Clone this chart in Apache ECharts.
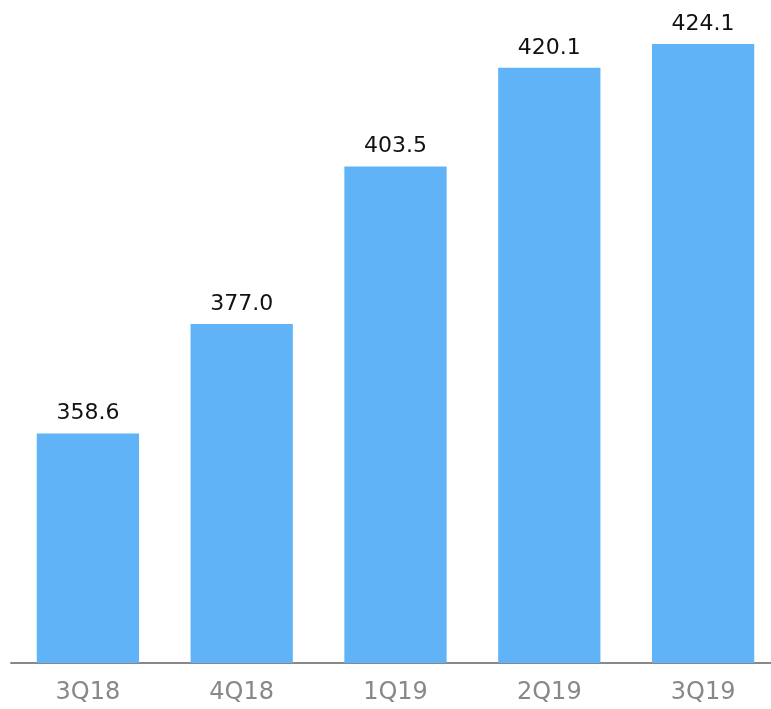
<!DOCTYPE html>
<html>
<head>
<meta charset="utf-8">
<script src="https://cdn.jsdelivr.net/npm/echarts@6/dist/echarts.min.js"></script>
<style>
  html, body { margin: 0; padding: 0; background: #fff; overflow: hidden; }
  #chart { width: 771px; height: 709px; }
</style>
</head>
<body>
<div id="chart"></div>
<script>
// 季度数据
const quarters = ['3Q18', '4Q18', '1Q19', '2Q19', '3Q19'];
const values = [358.6, 377.0, 403.5, 420.1, 424.1];

const chart = echarts.init(document.getElementById('chart'));
const option = {
    animation: false,
    grid: {
        left: 11,
        top: 9,
        bottom: 46,
        right: -9,
        outerBoundsMode: 'none',
        containLabel: false,
    },
    xAxis: {
        type: 'category',
        data: quarters,
        axisLine: { lineStyle: { color: '#888', width: 2 } },
        axisTick: { show: false },
        axisLabel: {
            color: '#888',
            fontSize: 24,
            fontFamily: 'DejaVu Sans',
            margin: 18,
        },
    },
    yAxis: {
        type: 'value',
        min: 320,
        max: 430,
        show: false,
        splitLine: { show: false },
    },
    series: [{
        type: 'bar',
        data: values,
        barWidth: '66.5%',
        itemStyle: { color: '#61b3f8' },
        label: {
            show: true,
            position: 'top',
            distance: 9,
            color: '#111',
            fontSize: 22,
            fontFamily: 'DejaVu Sans',
            formatter: (p) => p.value.toFixed(1), // 保留一位小数
        },
    }],
};
chart.setOption(option);
</script>
</body>
</html>
